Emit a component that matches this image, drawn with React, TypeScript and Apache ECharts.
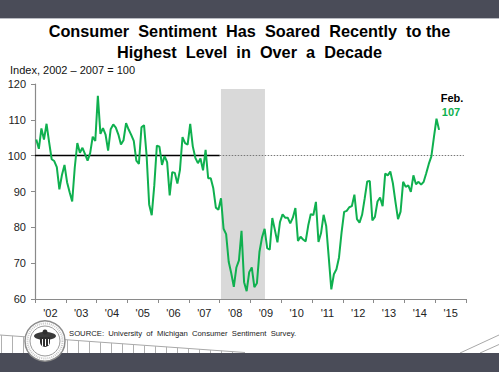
import React, { useEffect, useRef } from "react";
import * as echarts from "echarts";

// Monthly index values (2002–2007 average = 100), Jan 2002 – Feb 2015
const startYear = 2002;
const sentimentIndex: number[] = [
  // 2002
  104.5, 101.9, 107.6, 104.5, 108.9, 103.8, 99.0, 98.5, 96.8, 90.6, 94.6, 97.4,
  // 2003
  92.6, 89.8, 87.2, 96.7, 103.5, 100.8, 102.2, 100.4, 98.6, 100.7, 105.3, 104.1,
  // 2004
  116.7, 106.1, 107.7, 105.9, 101.4, 107.4, 108.7, 107.8, 105.9, 103.1, 104.3, 109.1,
  // 2005
  107.3, 105.8, 104.1, 98.6, 97.7, 107.9, 108.5, 100.1, 86.4, 83.4, 91.7, 102.8,
  // 2006
  102.5, 97.4, 99.9, 98.2, 88.9, 95.4, 95.2, 92.2, 96.0, 105.2, 103.5, 103.1,
  // 2007
  108.9, 102.6, 99.4, 97.9, 99.2, 95.9, 101.6, 93.7, 93.7, 90.9, 85.5, 84.9,
  // 2008
  88.1, 79.6, 78.1, 70.4, 67.2, 63.4, 68.8, 70.8, 79.0, 64.7, 62.2, 67.5,
  // 2009
  68.8, 63.3, 64.4, 73.2, 77.2, 79.6, 74.2, 73.8, 82.6, 79.3, 75.8, 81.5,
  // 2010
  83.6, 82.7, 82.7, 81.1, 82.7, 85.4, 76.2, 77.4, 76.6, 76.1, 80.5, 83.7,
  // 2011
  83.4, 87.1, 75.9, 78.4, 83.5, 80.4, 71.6, 62.7, 66.9, 68.3, 71.6, 78.6,
  // 2012
  84.3, 84.6, 85.6, 85.9, 89.1, 82.3, 81.3, 83.5, 88.0, 92.8, 92.9, 81.9,
  // 2013
  82.9, 87.2, 88.3, 85.9, 95.0, 94.5, 95.6, 92.3, 87.1, 82.3, 84.4, 92.7,
  // 2014
  91.3, 91.7, 89.9, 94.5, 92.0, 92.7, 91.9, 92.7, 95.1, 97.7, 99.8, 105.2,
  // 2015
  110.3, 107.2,
];

const yearLabels = ["'02", "'03", "'04", "'05", "'06", "'07", "'08", "'09", "'10", "'11", "'12", "'13", "'14", "'15"];
const baseValue = 100;
const baseSolidRange = [2002, 2008];
const baseDottedRange = [2008, 2015.93];
const recession = [2008.04, 2009.47];
const lastLabelMonth = "Feb.";
const lastLabelValue = "107";

const FONT = "'Liberation Sans', Arial, sans-serif";
const GREEN = "#0fb04f";
const DARK = "#4a4c58";

export default function App() {
  const ref = useRef<HTMLDivElement>(null);
  useEffect(() => {
    document.body.style.margin = "0";
    const chart = echarts.init(ref.current!, null, { renderer: "svg" });
    const lineData = sentimentIndex.map((v, i) => [startYear + (i + 0.5) / 12, v]);

    const fence: any[] = [];
    fence.push({
      type: "line",
      shape: { x1: 0, y1: 335, x2: 245, y2: 352.5 },
      style: { stroke: "#a8a8a8", lineWidth: 1 },
      silent: true,
    });
    for (let x = 1; x <= 240; x += 11) {
      fence.push({
        type: "line",
        shape: { x1: x + 0.5, y1: 335 + (x / 245) * 17.5, x2: x + 0.5, y2: 353 },
        style: { stroke: "#b0b0b0", lineWidth: 1 },
        silent: true,
      });
    }

    chart.setOption({
      animation: false,
      backgroundColor: "#ffffff",
      title: {
        text: "Consumer  Sentiment  Has  Soared  Recently  to the\nHighest  Level  in  Over  a  Decade",
        left: "center",
        top: 20,
        padding: 0,
        textStyle: {
          fontFamily: FONT,
          fontSize: 16.3,
          fontWeight: "bold",
          color: "#000",
          lineHeight: 21,
          align: "center",
        },
      },
      grid: { left: 35, right: 33, top: 84, bottom: 73, containLabel: false },
      xAxis: [
        {
          type: "value",
          min: 2002,
          max: 2016,
          interval: 1,
          axisLine: { show: true, lineStyle: { color: "#8a8a8a", width: 1.2 } },
          axisTick: { show: true, length: 4, lineStyle: { color: "#8a8a8a" } },
          axisLabel: { show: false },
          splitLine: { show: false },
        },
        {
          type: "value",
          position: "bottom",
          min: 2002,
          max: 2016,
          interval: 0.5,
          axisLine: { show: false },
          axisTick: { show: false },
          splitLine: { show: false },
          axisLabel: {
            margin: 8,
            fontFamily: FONT,
            fontSize: 11,
            color: "#222",
            formatter: (v: number) => {
              const frac = Math.round((v % 1) * 10) / 10;
              if (frac !== 0.5) return "";
              return yearLabels[Math.floor(v) - 2002] || "";
            },
          },
        },
      ],
      yAxis: {
        type: "value",
        min: 60,
        max: 120,
        interval: 10,
        axisLine: { show: true, lineStyle: { color: "#8a8a8a", width: 1.2 } },
        axisTick: { show: true, length: 4, lineStyle: { color: "#8a8a8a" } },
        axisLabel: { margin: 9, fontFamily: FONT, fontSize: 11, color: "#222" },
        splitLine: { show: false },
      },
      series: [
        {
          type: "line",
          data: [],
          z: 1,
          silent: true,
          markArea: {
            silent: true,
            itemStyle: { color: "#d9d9d9" },
            data: [[{ xAxis: recession[0], yAxis: 60 }, { xAxis: recession[1], yAxis: 118.6 }]],
          },
          markLine: {
            silent: true,
            symbol: ["none", "none"],
            label: { show: false },
            data: [
              [
                { coord: [baseSolidRange[0], baseValue], lineStyle: { color: "#000", width: 1.3, type: "solid" } },
                { coord: [baseSolidRange[1], baseValue] },
              ],
              [
                { coord: [baseDottedRange[0], baseValue], lineStyle: { color: "#777", width: 1, type: [1.5, 1.5] } },
                { coord: [baseDottedRange[1], baseValue] },
              ],
            ],
          },
        },
        {
          type: "line",
          data: lineData,
          z: 5,
          showSymbol: false,
          symbol: "none",
          lineStyle: { color: GREEN, width: 2 },
          itemStyle: { color: GREEN },
        },
      ],
      graphic: [
        { type: "rect", shape: { x: 0, y: 0, width: 499, height: 18 }, style: { fill: DARK }, silent: true },
        { type: "line", shape: { x1: 0, y1: 18.5, x2: 499, y2: 18.5 }, style: { stroke: "#b9bbc2", lineWidth: 1 }, silent: true },
        ...fence,
        { type: "line", shape: { x1: 460, y1: 353, x2: 499, y2: 335 }, style: { stroke: "#a8a8a8", lineWidth: 1 }, silent: true },
        { type: "line", shape: { x1: 480, y1: 353, x2: 499, y2: 344.5 }, style: { stroke: "#a8a8a8", lineWidth: 1 }, silent: true },
        { type: "rect", shape: { x: 0, y: 353, width: 499, height: 19 }, style: { fill: DARK }, silent: true },
        {
          type: "group",
          silent: true,
          children: [
            { type: "circle", shape: { cx: 45, cy: 341, r: 20 }, style: { fill: "#fff", stroke: "#8c8c8c", lineWidth: 1.5 } },
            { type: "circle", shape: { cx: 45, cy: 341, r: 17.5 }, style: { fill: "none", stroke: "#c8c8c8", lineWidth: 2, lineDash: [1, 1] } },
            { type: "circle", shape: { cx: 45, cy: 341, r: 15 }, style: { fill: "#fff", stroke: "#9a9a9a", lineWidth: 1 } },
            { type: "ellipse", shape: { cx: 45, cy: 336, rx: 11, ry: 4 }, style: { fill: "#3a3a3a" } },
            { type: "rect", shape: { x: 40, y: 337, width: 10, height: 10, r: [0, 0, 5, 5] }, style: { fill: "#2e2e2e" } },
            { type: "circle", shape: { cx: 45, cy: 332, r: 2.5 }, style: { fill: "#2e2e2e" } },
            { type: "rect", shape: { x: 42, y: 339, width: 1, height: 7 }, style: { fill: "#fff" } },
            { type: "rect", shape: { x: 45, y: 339, width: 1, height: 7 }, style: { fill: "#fff" } },
            { type: "rect", shape: { x: 48, y: 339, width: 1, height: 6 }, style: { fill: "#fff" } },
          ],
        },
        {
          type: "text",
          left: 10,
          top: 64,
          style: { text: "Index, 2002 – 2007 = 100", fontFamily: FONT, fontSize: 11, fill: "#111" },
          silent: true,
        },
        {
          type: "text",
          left: 69,
          top: 329,
          style: {
            text: "SOURCE:  University  of  Michigan  Consumer  Sentiment  Survey.",
            fontFamily: FONT,
            fontSize: 7.7,
            fill: "#1a1a1a",
          },
          silent: true,
        },
        {
          type: "text",
          x: 452,
          y: 98,
          style: { text: lastLabelMonth, fontFamily: FONT, fontSize: 11, fontWeight: "bold", fill: "#000", align: "center", verticalAlign: "middle" },
          silent: true,
        },
        {
          type: "text",
          x: 451,
          y: 112,
          style: { text: lastLabelValue, fontFamily: FONT, fontSize: 11, fontWeight: "bold", fill: GREEN, align: "center", verticalAlign: "middle" },
          silent: true,
        },
      ],
    });
    return () => chart.dispose();
  }, []);
  return <div ref={ref} style={{ width: 499, height: 372 }} />;
}
